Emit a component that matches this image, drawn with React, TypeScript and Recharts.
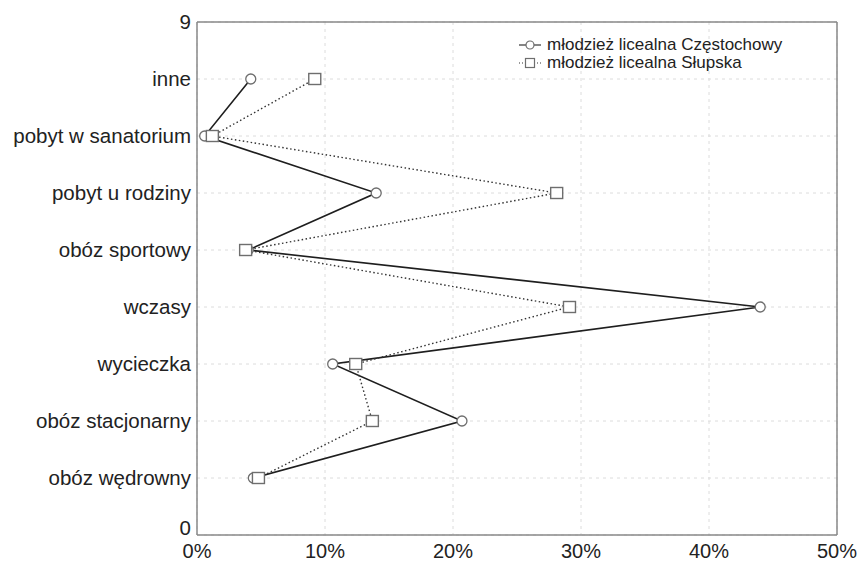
import {
  CartesianGrid,
  Line,
  LineChart,
  ReferenceLine,
  XAxis,
  YAxis,
} from "recharts";

const categories = [
  "inne",
  "pobyt w sanatorium",
  "pobyt u rodziny",
  "obóz sportowy",
  "wczasy",
  "wycieczka",
  "obóz stacjonarny",
  "obóz wędrowny",
];
const positions = [8, 7, 6, 5, 4, 3, 2, 1];
const czestochowa = [4.2, 0.6, 14.0, 4.0, 44.0, 10.6, 20.7, 4.4];
const slupsk = [9.2, 1.2, 28.1, 3.8, 29.1, 12.4, 13.7, 4.8];
const xTicks = [0, 10, 20, 30, 40, 50];
const yTicks = [0, 1, 2, 3, 4, 5, 6, 7, 8, 9];

const seriesNames = ["młodzież licealna Częstochowy", "młodzież licealna Słupska"];

const data = categories.map((name, i) => ({
  name,
  pos: positions[i],
  cz: czestochowa[i],
  sl: slupsk[i],
}));

const yLabel = (v: number) => {
  const idx = positions.indexOf(v);
  return idx >= 0 ? categories[idx] : String(v);
};

const FONT = "'Liberation Sans', Arial, sans-serif";

// y tick labels; the bottom "0" sits a bit higher so it clears "0%"
const YTick = (props: any) => {
  const { x, y, payload } = props;
  const shift = payload.value === 0 ? -7 : 0;
  return (
    <text x={x} y={y + shift} dy="0.355em" textAnchor="end" fill="#222" fontSize={20.5}>
      {yLabel(payload.value)}
    </text>
  );
};

const SquareDot = (props: any) => {
  const { cx, cy, index } = props;
  if (cx == null || cy == null) return null;
  return (
    <rect
      key={`sq-${index}`}
      x={cx - 6}
      y={cy - 5.5}
      width={12}
      height={11}
      fill="#fff"
      stroke="#6e6e6e"
      strokeWidth={1.4}
    />
  );
};

const LegendBox = () => (
  <div
    style={{
      position: "absolute",
      left: 517,
      top: 36,
      fontFamily: FONT,
      fontSize: 17,
      color: "#222",
      lineHeight: "18px",
    }}
  >
    <div style={{ display: "flex", alignItems: "center" }}>
      <svg width={27} height={18}>
        <line x1={2} y1={9} x2={24} y2={9} stroke="#333" strokeWidth={1.2} />
        <circle cx={13} cy={9} r={4} fill="#fff" stroke="#6e6e6e" strokeWidth={1.2} />
      </svg>
      <span style={{ marginLeft: 3 }}>{seriesNames[0]}</span>
    </div>
    <div style={{ display: "flex", alignItems: "center" }}>
      <svg width={27} height={18}>
        <line x1={2} y1={9} x2={24} y2={9} stroke="#333" strokeWidth={1.2} strokeDasharray="1 2" />
        <rect x={8.5} y={4.5} width={9} height={9} fill="#fff" stroke="#6e6e6e" strokeWidth={1.2} />
      </svg>
      <span style={{ marginLeft: 3 }}>{seriesNames[1]}</span>
    </div>
  </div>
);

export default function App() {
  return (
    <div style={{ position: "absolute", left: 0, top: 0, width: 860, height: 566, background: "#fff" }}>
      <LineChart
        width={860}
        height={566}
        layout="vertical"
        data={data}
        margin={{ top: 22, right: 23, left: 0, bottom: 0 }}
        style={{ fontFamily: FONT }}
      >
        <CartesianGrid stroke="#dcdcdc" strokeDasharray="3 4" />
        <XAxis
          type="number"
          dataKey="cz"
          domain={[0, 50]}
          ticks={xTicks}
          tickFormatter={(v: number) => `${v}%`}
          height={31}
          tickSize={0}
          tickMargin={9}
          interval={0}
          axisLine={{ stroke: "#888", strokeWidth: 1.5 }}
          tick={{ fill: "#222", fontSize: 20 }}
        />
        <YAxis
          type="number"
          dataKey="pos"
          domain={[0, 9]}
          ticks={yTicks}
          reversed
          width={197}
          tickSize={0}
          tickMargin={6}
          interval={0}
          axisLine={{ stroke: "#888", strokeWidth: 1.5 }}
          tick={<YTick />}
        />
        <ReferenceLine x={50} stroke="#888" strokeWidth={1.5} />
        <ReferenceLine y={9} stroke="#888" strokeWidth={1.5} />
        <Line
          dataKey="cz"
          name={seriesNames[0]}
          stroke="#1e1e1e"
          strokeWidth={1.6}
          isAnimationActive={false}
          dot={{ r: 5, fill: "#fff", stroke: "#6e6e6e", strokeWidth: 1.3 }}
        />
        <Line
          dataKey="sl"
          name={seriesNames[1]}
          stroke="#333"
          strokeWidth={1.4}
          strokeDasharray="1.5 2.5"
          isAnimationActive={false}
          dot={SquareDot}
        />
      </LineChart>
      <LegendBox />
    </div>
  );
}
